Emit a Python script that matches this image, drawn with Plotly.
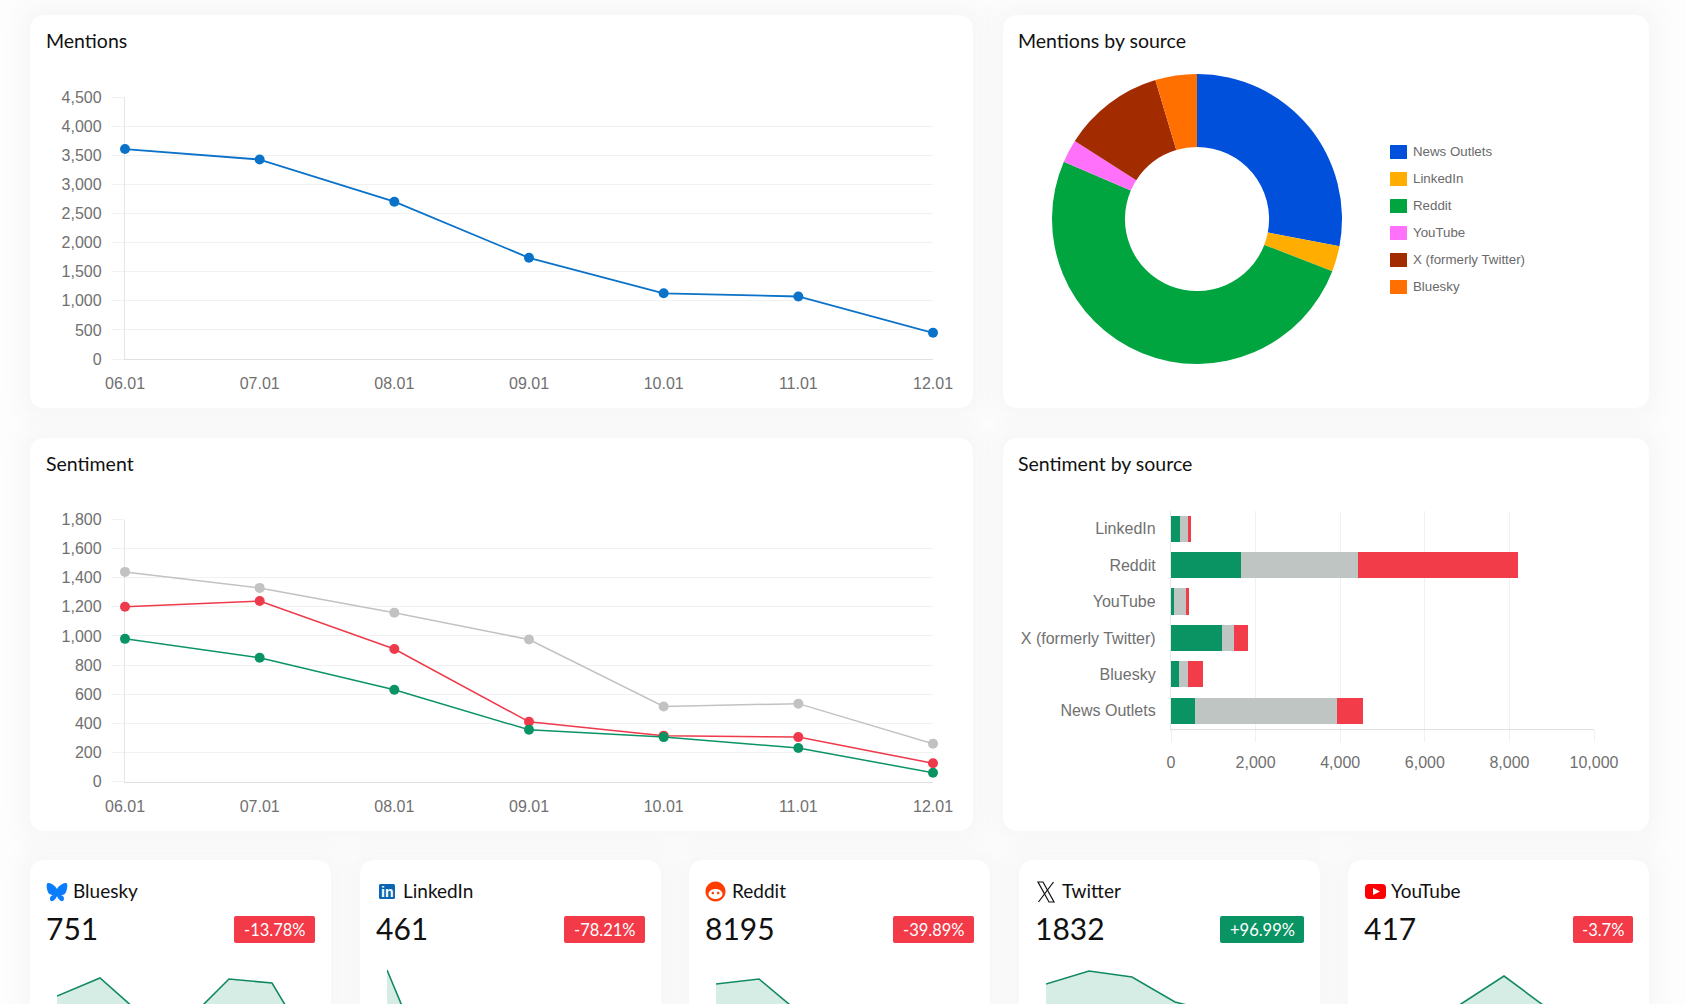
import re
import plotly.graph_objects as go

W, H = 1686, 1004

# ---- data ----
months = ["06.01", "07.01", "08.01", "09.01", "10.01", "11.01", "12.01"]
mentions = [3610, 3430, 2705, 1740, 1130, 1075, 450]
sent_neutral = [1440, 1330, 1160, 975, 515, 535, 260]
sent_negative = [1200, 1240, 910, 410, 315, 305, 125]
sent_positive = [980, 850, 630, 355, 305, 230, 60]

pie_labels = ["News Outlets", "LinkedIn", "Reddit", "YouTube", "X (formerly Twitter)", "Bluesky"]
pie_values = [4534, 461, 8195, 417, 1832, 751]
pie_colors = ["#0050dc", "#ffad00", "#00a540", "#ff70fb", "#a32b00", "#ff7000"]

bar_sources = ["LinkedIn", "Reddit", "YouTube", "X (formerly Twitter)", "Bluesky", "News Outlets"]
bar_positive = [207, 1656, 60, 1200, 186, 570]
bar_neutral = [197, 2754, 302, 290, 218, 3343]
bar_negative = [57, 3785, 55, 342, 347, 621]

card_names = ["Bluesky", "LinkedIn", "Reddit", "Twitter", "YouTube"]
card_totals = ["751", "461", "8195", "1832", "417"]
card_changes = ["-13.78%", "-78.21%", "-39.89%", "+96.99%", "-3.7%"]
spark_bluesky = [168, 186, 148, 142, 185, 181, 109]
spark_linkedin = [194, 91, 40, 60, 50, 45, 38]
spark_reddit = [180, 185, 149, 120, 100, 90, 80]
spark_twitter = [180, 193, 187, 162, 151, 140, 130]
spark_youtube = [130, 135, 160, 188, 156, 130, 120]
sparks = [spark_bluesky, spark_linkedin, spark_reddit, spark_twitter, spark_youtube]

# ---- styles ----
BLUE, GREEN, RED, GREY = "#0a72c8", "#0a9464", "#ee3a4a", "#c2c2c2"
TITLE_FONT = "Lato, sans-serif"
TICK_FONT = dict(family="Liberation Sans, Arial, sans-serif", size=16, color="#707070")
GRID = "#f1f1f1"


def px(x):
    return x / W


def py(y):
    return 1 - y / H


def dom_x(a, b):
    return [px(a), px(b)]


def dom_y(top, bottom):
    return [py(bottom), py(top)]


def convert(path, ox=0, oy=0):
    nums = iter(re.findall(r"[A-Za-z]|-?\d+\.?\d*", path))
    out, is_x = [], True
    for tok in nums:
        if tok.isalpha():
            out.append(tok)
            is_x = True
        else:
            v = float(tok)
            out.append(f"{px(v + ox):.6f}" if is_x else f"{py(v + oy):.6f}")
            is_x = not is_x
    return " ".join(out)


def rrect(x0, y0, x1, y1, r):
    return convert(
        f"M{x0 + r} {y0} L{x1 - r} {y0} Q{x1} {y0} {x1} {y0 + r} L{x1} {y1 - r} Q{x1} {y1} {x1 - r} {y1} "
        f"L{x0 + r} {y1} Q{x0} {y1} {x0} {y1 - r} L{x0} {y0 + r} Q{x0} {y0} {x0 + r} {y0} Z"
    )


shapes, annotations = [], []


def add_path(path, fill, line=None, width=0, layer="below"):
    shapes.append(dict(type="path", xref="paper", yref="paper", path=path, fillcolor=fill,
                       line=dict(color=line or "rgba(0,0,0,0)", width=width), layer=layer))


def add_text(x, y, text, size, color="#111111", family=TITLE_FONT, anchor="left"):
    annotations.append(dict(xref="paper", yref="paper", x=px(x), y=py(y), text=text, showarrow=False,
                            xanchor=anchor, yanchor="middle", align=anchor,
                            font=dict(family=family, size=size, color=color)))


big_cards = [(30, 15, 973, 408), (1003, 15, 1649, 408), (30, 438, 973, 831), (1003, 438, 1649, 831)]
card_lefts = [30, 360, 689, 1019, 1348]
small_cards = [(x, 860, x + 301, 1050) for x in card_lefts]
all_cards = big_cards + small_cards
for d in (24, 18, 12, 8, 4):
    for c in all_cards:
        add_path(rrect(c[0] - d, c[1] - d, c[2] + d, c[3] + d, 16 + d), "rgba(0,0,0,0.0045)")
for c in all_cards:
    add_path(rrect(*c, 16), "#ffffff")

add_text(44, 41, "Mentions", 19.5)
add_text(1016, 41, "Mentions by source", 19.5)
add_text(44, 463, "Sentiment", 19.5)
add_text(1016, 463, "Sentiment by source", 19.5)

fig = go.Figure()

# Mentions line
fig.add_trace(go.Scatter(x=months, y=mentions, mode="lines+markers", cliponaxis=False,
                         line=dict(color=BLUE, width=1.8), marker=dict(color=BLUE, size=10),
                         xaxis="x", yaxis="y", showlegend=False))

# Sentiment lines
for vals, col in ((sent_neutral, GREY), (sent_negative, RED), (sent_positive, GREEN)):
    fig.add_trace(go.Scatter(x=months, y=vals, mode="lines+markers", cliponaxis=False,
                             line=dict(color=col, width=1.5), marker=dict(color=col, size=10),
                             xaxis="x2", yaxis="y2", showlegend=False))

# Donut
fig.add_trace(go.Pie(labels=pie_labels, values=pie_values, hole=0.497, sort=False, direction="clockwise",
                     rotation=0, textinfo="none", showlegend=False,
                     marker=dict(colors=pie_colors, line=dict(width=0)),
                     domain=dict(x=dom_x(1052, 1342), y=dom_y(74, 364))))

# Manual legend, square swatches spaced as in the source
for i, (lab, col) in enumerate(zip(pie_labels, pie_colors)):
    yc = 152 + 27 * i
    add_path(rrect(1390, yc - 7, 1407, yc + 7, 0.5), col)
    add_text(1411, yc - 0.5, lab, 13.3, color="#6a6a6a", family=TICK_FONT["family"])

# Stacked bars
for vals, col in ((bar_positive, "#0a9464"), (bar_neutral, "#bfc5c3"), (bar_negative, "#f23c4a")):
    fig.add_trace(go.Bar(y=bar_sources, x=vals, orientation="h", marker=dict(color=col, line=dict(width=0)),
                         width=0.72, xaxis="x3", yaxis="y3", showlegend=False))

# Stat cards
for i, left in enumerate(card_lefts):
    right = left + 301
    ax = i + 4
    fig.add_trace(go.Scatter(x=months, y=sparks[i], mode="lines", fill="tozeroy",
                             line=dict(color="#118a63", width=1.6), fillcolor="rgba(10,148,100,0.17)",
                             xaxis=f"x{ax}", yaxis=f"y{ax}", showlegend=False))
    add_text(left + 40.5, 890, card_names[i], 19)
    add_text(left + 14, 928, card_totals[i], 30)
    chg = card_changes[i]
    bw = {"-13.78%": 81, "-78.21%": 81, "-39.89%": 81, "+96.99%": 84, "-3.7%": 60}[chg]
    col = "#0a9464" if chg.startswith("+") else "#f23a48"
    add_path(rrect(right - 16 - bw, 916, right - 16, 943, 2), col)
    add_text(right - 16 - bw / 2, 929.5, chg, 16.5, color="#ffffff", anchor="center")


def disc(cx, cy, rx, ry=None):
    ry = ry or rx
    k = 0.5523
    return convert(
        f"M{cx - rx} {cy} C{cx - rx} {cy - k * ry} {cx - k * rx} {cy - ry} {cx} {cy - ry} "
        f"C{cx + k * rx} {cy - ry} {cx + rx} {cy - k * ry} {cx + rx} {cy} "
        f"C{cx + rx} {cy + k * ry} {cx + k * rx} {cy + ry} {cx} {cy + ry} "
        f"C{cx - k * rx} {cy + ry} {cx - rx} {cy + k * ry} {cx - rx} {cy} Z"
    )


# Icons
add_path(convert("M27 29 C24 24 20 23 18 23 C16 23 16.5 29 18 32 C19 35 22 35 23 35 C20 36 19 39 21 41 "
                 "C23 42 26 39 27 36 C28 39 31 42 33 41 C35 39 34 36 31 35 C32 35 35 35 36 32 "
                 "C37.5 29 38 23 36 23 C34 23 30 24 27 29 Z", 30, 860), "#0a7dfc")
add_path(rrect(379, 884, 395, 899, 1.5), "#0a66b2")
add_text(387, 891.5, "<b>in</b>", 14, color="#ffffff", family=TICK_FONT["family"], anchor="center")
add_path(disc(715.5, 891.5, 10), "#ff3d00")
add_path(disc(715.5, 894, 7, 5), "#ffffff")
add_path(disc(712.8, 893, 1.3), "#ff3d00")
add_path(disc(718.2, 893, 1.3), "#ff3d00")
add_path(convert("M1038 882 L1043 882 L1054 902 L1049 902 Z"), "#ffffff", "#111111", 1.2)
add_path(convert("M1053.5 882 L1038.5 902"), "rgba(0,0,0,0)", "#111111", 1.2)
add_path(rrect(1365, 884, 1386, 899, 4), "#ff0000")
add_path(convert("M1373 888 L1380 891.5 L1373 895 Z"), "#ffffff")

axis_cat = dict(type="category", range=[0, 6], showgrid=False, showline=True, linecolor="#e0e0e0", linewidth=1.3,
                tickfont=TICK_FONT, ticks="outside", ticklen=10, tickcolor="rgba(0,0,0,0)", zeroline=False,
                fixedrange=True, layer="below traces")
axis_val = dict(showgrid=True, gridcolor=GRID, gridwidth=1.2, showline=True, linecolor="#e6e6e6", linewidth=1.3,
                tickformat=",", tickfont=TICK_FONT, ticks="outside", ticklen=12, tickcolor=GRID, zeroline=False,
                ticklabelstandoff=7, fixedrange=True, layer="below traces")

layout = dict(
    width=W, height=H, autosize=False, margin=dict(l=0, r=0, t=0, b=0, autoexpand=False),
    paper_bgcolor="#fdfdfd", plot_bgcolor="rgba(0,0,0,0)", barmode="stack", hovermode=False,
    shapes=shapes, annotations=annotations,
    xaxis=dict(axis_cat, domain=dom_x(125, 933), anchor="y"),
    yaxis=dict(axis_val, domain=dom_y(97.3, 359), range=[0, 4500], dtick=500, anchor="x"),
    xaxis2=dict(axis_cat, domain=dom_x(125, 933), anchor="y2"),
    yaxis2=dict(axis_val, domain=dom_y(519.5, 781.5), range=[0, 1800], dtick=200, anchor="x2"),
    xaxis3=dict(domain=dom_x(1171, 1594), range=[0, 10000], dtick=2000, tickformat=",", anchor="y3",
                showgrid=True, gridcolor=GRID, gridwidth=1.2, showline=True, linecolor="#e0e0e0", linewidth=1.3,
                tickfont=TICK_FONT, ticks="outside", ticklen=12, tickcolor=GRID, zeroline=False,
                ticklabelstandoff=7, fixedrange=True, layer="below traces"),
    yaxis3=dict(domain=dom_y(510.5, 729), type="category", autorange="reversed", anchor="x3",
                showgrid=False, showline=True, linecolor="#e6e6e6", linewidth=1.3,
                tickfont=dict(TICK_FONT, size=16), ticks="", ticklabelstandoff=11, zeroline=False, fixedrange=True),
)
for i, left in enumerate(card_lefts):
    ax = i + 4
    layout[f"xaxis{ax}"] = dict(domain=dom_x(left + 27, left + 285), type="category", range=[0, 6], visible=False,
                                anchor=f"y{ax}", fixedrange=True)
    layout[f"yaxis{ax}"] = dict(domain=dom_y(960, 1004), range=[160, 204], visible=False,
                                anchor=f"x{ax}", fixedrange=True)

fig.update_layout(**layout)
fig.write_html("out.html", config=dict(displayModeBar=False),
               post_script="document.body.style.margin='0';document.body.style.overflow='hidden';")
